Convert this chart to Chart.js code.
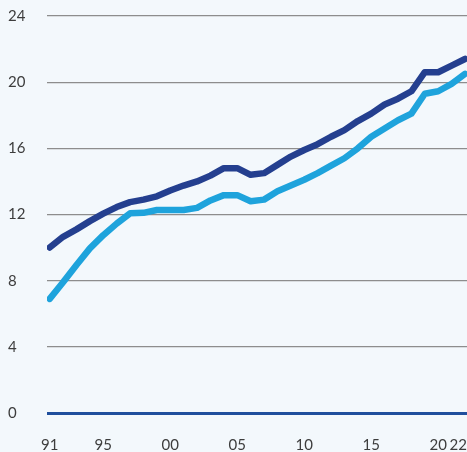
<!DOCTYPE html>
<html>
<head>
<meta charset="utf-8">
<script src="https://cdn.jsdelivr.net/npm/chart.js@4/dist/chart.umd.min.js"></script>
<style>
  html, body { margin: 0; padding: 0; background: #f3f8fc; }
  #wrap { width: 467px; height: 452px; }
</style>
</head>
<body>
<div id="wrap"><canvas id="chart"></canvas></div>
<script>
(function(){
    // years on the x axis
    const years = [1991, 1992, 1993, 1994, 1995, 1996, 1997, 1998, 1999, 2000,
                   2001, 2002, 2003, 2004, 2005, 2006, 2007, 2008, 2009, 2010,
                   2011, 2012, 2013, 2014, 2015, 2016, 2017, 2018, 2019, 2020,
                   2021, 2022];

    // dark blue series
    const darkValues = [10.0, 10.65, 11.1, 11.6, 12.05, 12.45, 12.75, 12.9, 13.1, 13.45,
                        13.75, 14.0, 14.35, 14.8, 14.8, 14.4, 14.5, 15.0, 15.5, 15.9,
                        16.25, 16.7, 17.1, 17.65, 18.1, 18.65, 19.0, 19.45, 20.6, 20.6,
                        21.0, 21.4];

    // light blue series
    const lightValues = [6.9, 7.9, 8.95, 9.95, 10.75, 11.45, 12.07, 12.1, 12.27, 12.27,
                         12.27, 12.4, 12.85, 13.17, 13.17, 12.8, 12.9, 13.4, 13.75, 14.1,
                         14.5, 14.95, 15.4, 16.0, 16.7, 17.2, 17.7, 18.1, 19.3, 19.45,
                         19.9, 20.5];

    // tick labels
    const xTickYears = [1991, 1995, 2000, 2005, 2010, 2015, 2020, 2022];
    const xTickLabels = ['91', '95', '00', '05', '10', '15', '20', '22'];
    const yTicks = [0, 4, 8, 12, 16, 20, 24];

    const tickFont = { family: 'Lato, "Open Sans", sans-serif', size: 15 };
    const tickColor = '#3d3d3d';

    const toPoints = (vals) => years.map((y, i) => ({ x: y, y: vals[i] }));

    // draws the year labels under the axis, kept inside the canvas
    const yearLabels = {
        id: 'yearLabels',
        afterDraw(chart){
            const c = chart.ctx;
            const xs = chart.scales.x;
            c.save();
            c.font = tickFont.size + 'px ' + tickFont.family;
            c.fillStyle = tickColor;
            c.textBaseline = 'middle';
            c.textAlign = 'center';
            xTickYears.forEach((yr, i) => {
                const txt = xTickLabels[i];
                const w = c.measureText(txt).width;
                let px = xs.getPixelForValue(yr);
                if (px + w / 2 > chart.width) px = chart.width - w / 2;
                c.fillText(txt, px, chart.chartArea.bottom + 32);
            });
            c.restore();
        }
    };

    const ctx = document.getElementById('chart').getContext('2d');

    new Chart(ctx, {
        type: 'line',
        data: {
            datasets: [{
                label: 'light',
                data: toPoints(lightValues),
                borderColor: '#1ea3dc',
                borderWidth: 6.5,
                pointRadius: 0,
                tension: 0,
                borderCapStyle: 'round',
                borderJoinStyle: 'round'
            }, {
                label: 'dark',
                data: toPoints(darkValues),
                borderColor: '#243f8f',
                borderWidth: 6.5,
                pointRadius: 0,
                tension: 0,
                borderCapStyle: 'round',
                borderJoinStyle: 'round'
            }]
        },
        options: {
            responsive: true,
            maintainAspectRatio: false,
            animation: false,
            layout: { padding: { left: 8, right: 0, top: 16, bottom: 31 } },
            plugins: { legend: { display: false }, tooltip: { enabled: false } },
            scales: {
                x: {
                    type: 'linear',
                    min: 1990.8,
                    max: 2022.15,
                    grid: { display: false },
                    border: { display: false },
                    ticks: { display: false }
                },
                y: {
                    min: 0,
                    max: 24,
                    afterBuildTicks: (s) => { s.ticks = yTicks.map(v => ({ value: v })); },
                    afterFit: (s) => { s.width = 39; },
                    border: { display: false },
                    grid: {
                        drawTicks: false,
                        color: (c) => c.tick && c.tick.value === 0 ? '#1f4f9d' : '#8d8d8d',
                        lineWidth: (c) => c.tick && c.tick.value === 0 ? 3 : 1.2
                    },
                    ticks: {
                        crossAlign: 'far',
                        padding: 0,
                        color: tickColor,
                        font: tickFont
                    }
                }
            }
        },
        plugins: [yearLabels]
    });
}());
</script>
</body>
</html>
